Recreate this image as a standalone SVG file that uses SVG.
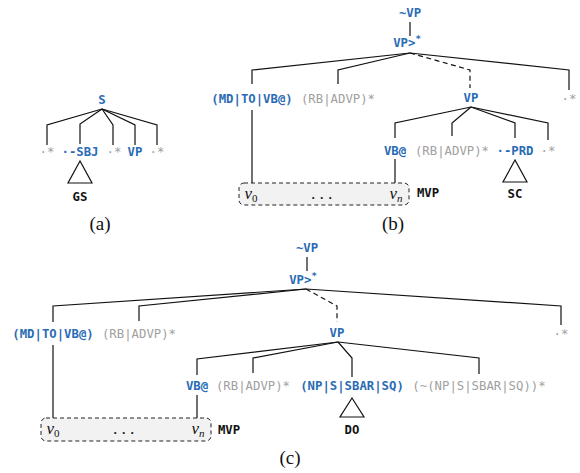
<svg xmlns="http://www.w3.org/2000/svg" width="580" height="473" viewBox="0 0 580 473">
<defs>
<style>
.lb{font-family:"DejaVu Sans Mono","Liberation Mono",monospace;font-size:12.3px;font-weight:bold;fill:#2a6bb5;text-anchor:middle}
.gr{font-family:"DejaVu Sans Mono","Liberation Mono",monospace;font-size:12.3px;font-weight:normal;fill:#a0a0a0;text-anchor:middle}
.bk{font-family:"DejaVu Sans Mono","Liberation Mono",monospace;font-size:12.3px;font-weight:bold;fill:#111;text-anchor:middle}
.mt{font-family:"Liberation Serif",serif;font-size:17px;font-style:italic;fill:#111;text-anchor:middle}
.cap{font-family:"Liberation Serif",serif;font-size:19px;fill:#111;text-anchor:middle}
.e{fill:none;stroke:#111;stroke-width:1.2}
.d{fill:none;stroke:#111;stroke-width:1.2;stroke-dasharray:5,3.5}
.box{fill:#f2f2f2;stroke:#222;stroke-width:1;stroke-dasharray:4,3}
.tri{fill:#fff;stroke:#111;stroke-width:1.2}
</style>
</defs>

<!-- connectors -->
<g id="connectors">
  <!-- (a) -->
  <polyline class="e" points="102,109 47,125 47,145"/>
  <polyline class="e" points="102,109 80,124 80,144"/>
  <polyline class="e" points="102,109 113,125 113,145"/>
  <polyline class="e" points="102,109 135,125 135,145"/>
  <polyline class="e" points="102,109 157,125 157,145"/>
  <!-- (b) -->
  <line class="e" x1="410" y1="22" x2="410" y2="36"/>
  <polyline class="e" points="410,53 252,70 252,84"/>
  <polyline class="e" points="410,53 338,70 338,84"/>
  <polyline class="d" points="410,53 470,70 470,88"/>
  <polyline class="e" points="410,53 569,70 569,90"/>
  <line class="e" x1="252" y1="110" x2="252" y2="183"/>
  <polyline class="e" points="471,107 395,123 395,138"/>
  <polyline class="e" points="471,107 452,123 452,136"/>
  <polyline class="e" points="471,107 515,123 515,138"/>
  <polyline class="e" points="471,107 548,123 548,140"/>
  <line class="e" x1="395" y1="159" x2="395" y2="183"/>
  <!-- (c) -->
  <line class="e" x1="307" y1="257" x2="307" y2="271"/>
  <polyline class="e" points="306,289 53,306 53,322"/>
  <polyline class="e" points="306,289 139,306 139,321"/>
  <polyline class="d" points="306,289 337,306 337,322"/>
  <polyline class="e" points="306,289 561,306 561,325"/>
  <line class="e" x1="53" y1="345" x2="53" y2="418"/>
  <polyline class="e" points="338,342 197,359 197,375"/>
  <polyline class="e" points="338,342 253,358 253,373"/>
  <polyline class="e" points="338,342 352,358 352,377"/>
  <polyline class="e" points="338,342 479,358 479,374"/>
  <line class="e" x1="197" y1="395" x2="197" y2="418"/>
</g>

<!-- panel (a) -->
<g id="a-S"><text class="lb" x="102" y="104">S</text></g>
<g id="a-star1"><text class="gr" x="47" y="156">·*</text></g>
<g id="a-SBJ"><text class="lb" x="80" y="156">·-SBJ</text></g>
<g id="a-star2"><text class="gr" x="114" y="156">·*</text></g>
<g id="a-VP"><text class="lb" x="135" y="156">VP</text></g>
<g id="a-star3"><text class="gr" x="157" y="156">·*</text></g>
<g id="a-GS"><polygon class="tri" points="80,161 68,183 92,183"/><text class="bk" x="80" y="201">GS</text></g>
<text class="cap" x="100" y="230">(a)</text>

<!-- panel (b) -->
<g id="b-tVP"><text class="lb" x="410" y="17">~VP</text></g>
<g id="b-VPs"><text class="lb" x="407" y="47">VP&gt;<tspan font-size="9" dy="-5">*</tspan></text></g>
<g id="b-MD"><text class="lb" x="252" y="103">(MD|TO|VB@)</text></g>
<g id="b-RB1"><text class="gr" x="338" y="103">(RB|ADVP)*</text></g>
<g id="b-VP"><text class="lb" x="471" y="102">VP</text></g>
<g id="b-star1"><text class="gr" x="569" y="103">·*</text></g>
<g id="b-VB"><text class="lb" x="395" y="155">VB@</text></g>
<g id="b-RB2"><text class="gr" x="452" y="155">(RB|ADVP)*</text></g>
<g id="b-PRD"><text class="lb" x="515" y="155">·-PRD</text></g>
<g id="b-star2"><text class="gr" x="548" y="155">·*</text></g>
<g id="b-SC"><polygon class="tri" points="515,160 503,182 527,182"/><text class="bk" x="515" y="198">SC</text></g>
<g id="b-MVP">
  <rect class="box" x="239" y="183" width="170" height="22" rx="5"/>
  <text class="mt" x="251" y="199">v<tspan font-style="normal" font-size="11" dy="3">0</tspan></text>
  <text class="mt" x="322" y="199" font-style="normal">. . .</text>
  <text class="mt" x="396" y="199">v<tspan font-size="11" dy="3">n</tspan></text>
  <text class="bk" x="428" y="197">MVP</text>
</g>
<text class="cap" x="393" y="230">(b)</text>

<!-- panel (c) -->
<g id="c-tVP"><text class="lb" x="307" y="252">~VP</text></g>
<g id="c-VPs"><text class="lb" x="303" y="284">VP&gt;<tspan font-size="9" dy="-5">*</tspan></text></g>
<g id="c-MD"><text class="lb" x="53" y="338">(MD|TO|VB@)</text></g>
<g id="c-RB1"><text class="gr" x="139" y="338">(RB|ADVP)*</text></g>
<g id="c-VP"><text class="lb" x="337" y="337">VP</text></g>
<g id="c-star"><text class="gr" x="561" y="338">·*</text></g>
<g id="c-VB"><text class="lb" x="197" y="390">VB@</text></g>
<g id="c-RB2"><text class="gr" x="253" y="390">(RB|ADVP)*</text></g>
<g id="c-NP"><text class="lb" x="352" y="390">(NP|S|SBAR|SQ)</text></g>
<g id="c-notNP"><text class="gr" x="479" y="390">(~(NP|S|SBAR|SQ))*</text></g>
<g id="c-DO"><polygon class="tri" points="352,398 340,417 364,417"/><text class="bk" x="352" y="434">DO</text></g>
<g id="c-MVP">
  <rect class="box" x="41" y="418" width="170" height="23" rx="5"/>
  <text class="mt" x="53" y="434">v<tspan font-style="normal" font-size="11" dy="3">0</tspan></text>
  <text class="mt" x="124" y="434" font-style="normal">. . .</text>
  <text class="mt" x="198" y="434">v<tspan font-size="11" dy="3">n</tspan></text>
  <text class="bk" x="229" y="434">MVP</text>
</g>
<text class="cap" x="290" y="464">(c)</text>
</svg>
